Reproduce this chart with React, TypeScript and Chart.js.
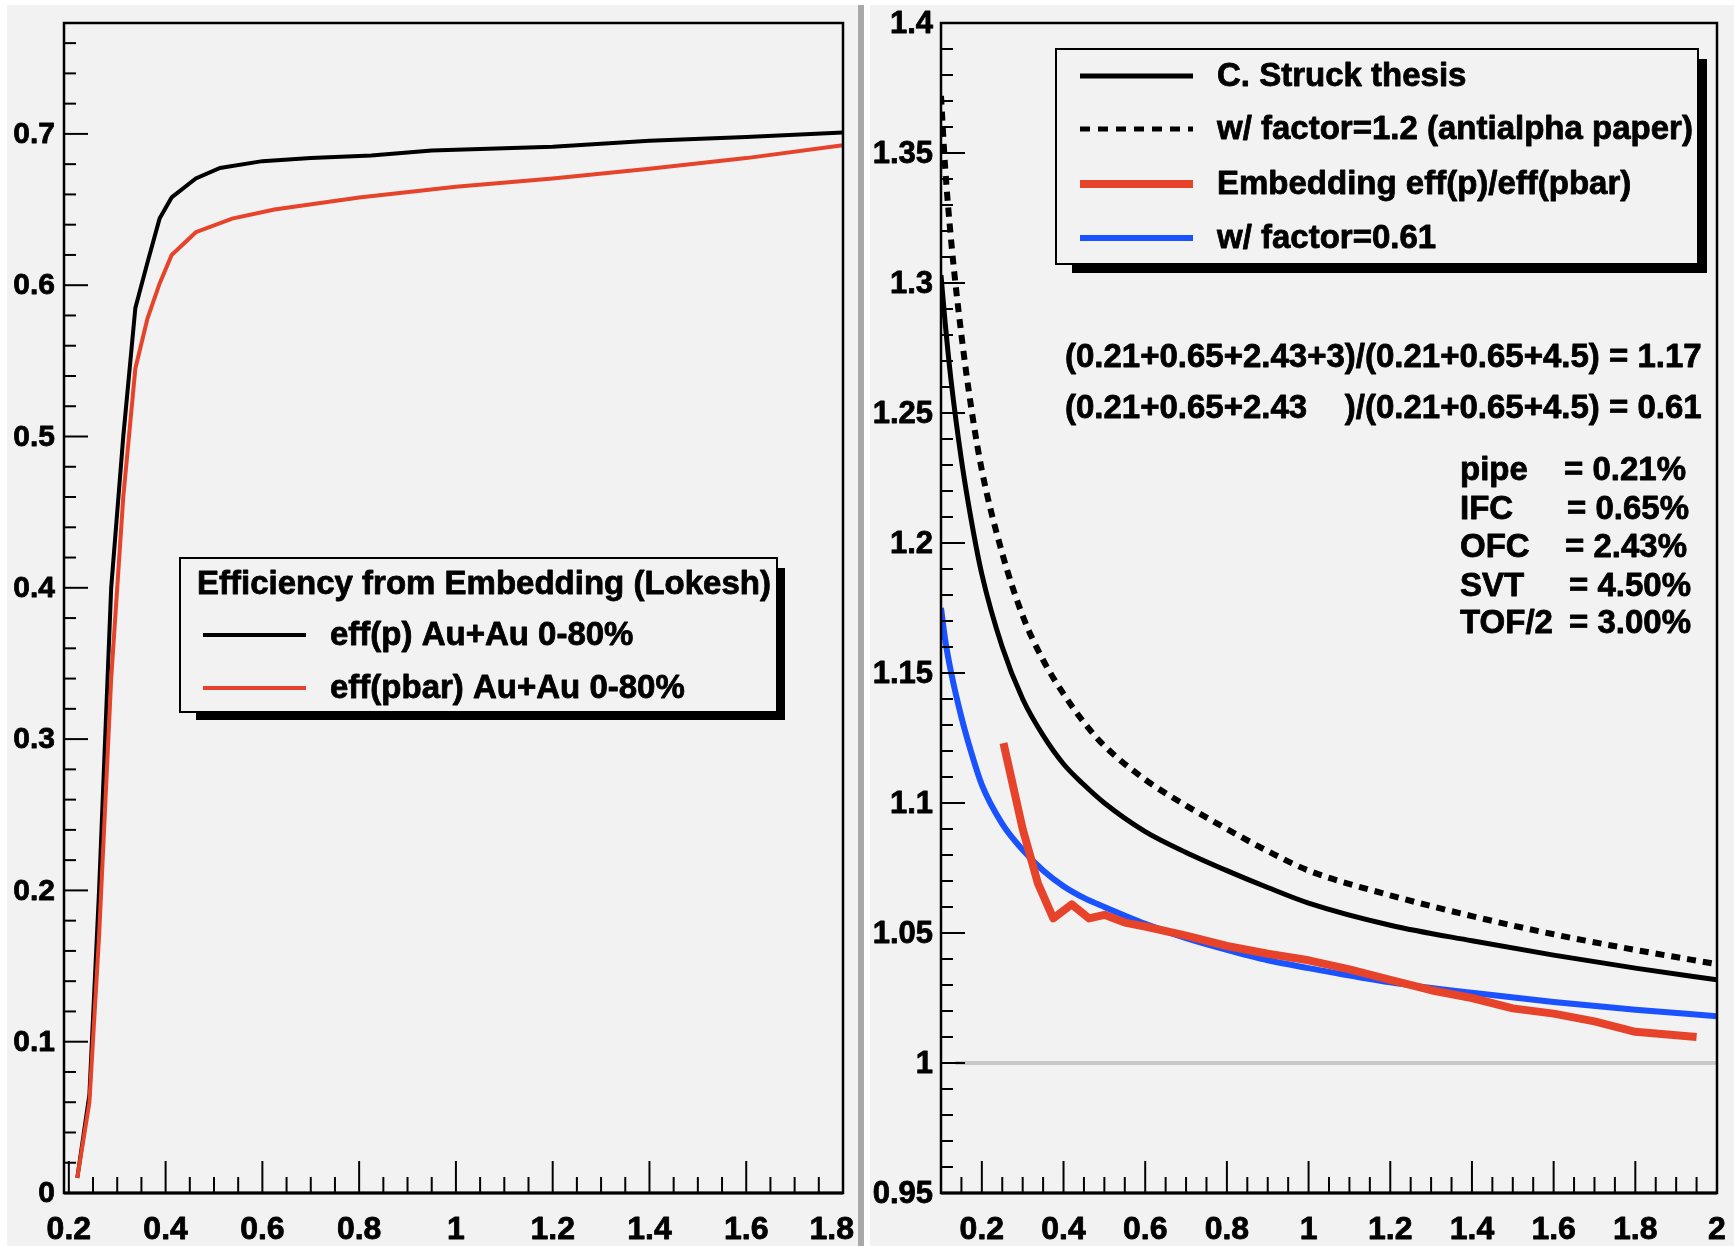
import React, { useEffect, useRef } from "react";
import { Chart, registerables } from "chart.js";
Chart.register(...registerables);

// ---------------- Left panel data ----------------
const effPX = [0.2175, 0.2425, 0.2625, 0.2875, 0.3125, 0.3375, 0.3625, 0.3875, 0.4125, 0.4625, 0.5125, 0.6, 0.7, 0.825, 0.95, 1.2, 1.4, 1.6, 1.8];
const effP = [0.01, 0.065, 0.2, 0.4, 0.5, 0.585, 0.615, 0.644, 0.658, 0.6705, 0.6775, 0.682, 0.684, 0.6857, 0.689, 0.6915, 0.6955, 0.698, 0.701];
const effPbarX = [0.2175, 0.2425, 0.2625, 0.2875, 0.3125, 0.3375, 0.3625, 0.3875, 0.4125, 0.4625, 0.5375, 0.625, 0.8, 1.0, 1.2, 1.4, 1.6, 1.8];
const effPbar = [0.01, 0.06, 0.17, 0.34, 0.46, 0.545, 0.578, 0.601, 0.62, 0.635, 0.644, 0.65, 0.658, 0.665, 0.6705, 0.677, 0.684, 0.6925];

const leftXTickValues = [0.2, 0.4, 0.6, 0.8, 1.0, 1.2, 1.4, 1.6, 1.8];
const leftXTickLabels = ["0.2", "0.4", "0.6", "0.8", "1", "1.2", "1.4", "1.6", "1.8"];
const leftYTickValues = [0, 0.1, 0.2, 0.3, 0.4, 0.5, 0.6, 0.7];
const leftYTickLabels = ["0", "0.1", "0.2", "0.3", "0.4", "0.5", "0.6", "0.7"];

// ---------------- Right panel data ----------------
const ratioX = [0.1, 0.11, 0.125, 0.15, 0.175, 0.2, 0.25, 0.3, 0.35, 0.4, 0.45, 0.5, 0.6, 0.7, 0.8, 0.9, 1.0, 1.2, 1.4, 1.6, 1.8, 2.0];
const struck = [1.303, 1.285, 1.262, 1.232, 1.208, 1.188, 1.16, 1.14, 1.126, 1.115, 1.107, 1.1, 1.089, 1.081, 1.074, 1.0675, 1.0615, 1.053, 1.047, 1.0415, 1.0365, 1.032];
const struck12 = [1.372, 1.345, 1.316, 1.28, 1.251, 1.228, 1.196, 1.172, 1.155, 1.142, 1.131, 1.122, 1.109, 1.099, 1.09, 1.0815, 1.074, 1.0645, 1.0565, 1.0495, 1.0435, 1.038];
const struck061 = [1.175, 1.163, 1.15, 1.133, 1.119, 1.107, 1.092, 1.082, 1.074, 1.068, 1.0635, 1.06, 1.0535, 1.048, 1.0435, 1.0395, 1.0365, 1.031, 1.027, 1.0235, 1.0205, 1.018];
const embX = [0.253, 0.3, 0.3375, 0.375, 0.42, 0.4625, 0.5, 0.55, 0.6, 0.7, 0.8, 0.9, 1.0, 1.1, 1.2, 1.3, 1.4, 1.5, 1.6, 1.7, 1.8, 1.95];
const embRatio = [1.123, 1.09, 1.069, 1.0556, 1.061, 1.0556, 1.057, 1.054, 1.0525, 1.049, 1.045, 1.042, 1.0395, 1.036, 1.032, 1.028, 1.025, 1.021, 1.019, 1.016, 1.012, 1.01];
const unityX = [0.135, 2.0];
const unityY = [1.0, 1.0];

const rightXTickValues = [0.2, 0.4, 0.6, 0.8, 1.0, 1.2, 1.4, 1.6, 1.8, 2.0];
const rightXTickLabels = ["0.2", "0.4", "0.6", "0.8", "1", "1.2", "1.4", "1.6", "1.8", "2"];
const rightYTickValues = [0.95, 1.0, 1.05, 1.1, 1.15, 1.2, 1.25, 1.3, 1.35, 1.4];
const rightYTickLabels = ["0.95", "1", "1.05", "1.1", "1.15", "1.2", "1.25", "1.3", "1.35", "1.4"];

const BG = "#f2f2f2";
const RED = "#e6432a";
const BLUE = "#1a52ff";
const FONT = '"Liberation Sans", Arial, Helvetica, sans-serif';
const TXT = 33;

function pts(xs: number[], ys: number[]) {
  return xs.map((x, i) => ({ x, y: ys[i] }));
}

function drawText(ctx: CanvasRenderingContext2D, text: string, x: number, y: number, size: number, align: "left" | "right" | "center" = "left", maxRight = Infinity) {
  ctx.save();
  ctx.font = `bold ${size}px ${FONT}`;
  ctx.textBaseline = "middle";
  ctx.textAlign = "left";
  const w = ctx.measureText(text).width;
  let x0 = align === "right" ? x - w : align === "center" ? x - w / 2 : x;
  if (x0 + w > maxRight) x0 = maxRight - w;
  ctx.fillStyle = "#000";
  ctx.strokeStyle = "#000";
  ctx.lineWidth = 0.8;
  ctx.lineJoin = "round";
  ctx.fillText(text, x0, y);
  ctx.strokeText(text, x0, y);
  ctx.restore();
  return w;
}

type AxisSpec = {
  minorStart: number;
  minorStep: number;
  minorCount: number;
  majorEvery: number;
  majorOffset: number;
  majorLen: number;
  minorLen: number;
};

function drawAxes(chart: any, xs: AxisSpec, ys: AxisSpec) {
  const ctx: CanvasRenderingContext2D = chart.ctx;
  const a = chart.chartArea;
  const sx = chart.scales.x;
  const sy = chart.scales.y;
  ctx.save();
  ctx.strokeStyle = "#000";
  ctx.lineWidth = 2;
  for (let i = 0; i < xs.minorCount; i++) {
    const v = xs.minorStart + i * xs.minorStep;
    const px = sx.getPixelForValue(v);
    if (px < a.left + 1 || px > a.right + 1) continue;
    const len = (i - xs.majorOffset) % xs.majorEvery === 0 ? xs.majorLen : xs.minorLen;
    ctx.beginPath();
    ctx.moveTo(px, a.bottom);
    ctx.lineTo(px, a.bottom - len);
    ctx.stroke();
  }
  for (let i = 0; i < ys.minorCount; i++) {
    const v = ys.minorStart + i * ys.minorStep;
    const py = sy.getPixelForValue(v);
    if (py < a.top - 1 || py > a.bottom - 1) continue;
    const len = (i - ys.majorOffset) % ys.majorEvery === 0 ? ys.majorLen : ys.minorLen;
    ctx.beginPath();
    ctx.moveTo(a.left, py);
    ctx.lineTo(a.left + len, py);
    ctx.stroke();
  }
  ctx.lineWidth = 2.5;
  ctx.strokeRect(a.left, a.top, a.right - a.left, a.bottom - a.top);
  ctx.lineWidth = 3;
  ctx.beginPath();
  ctx.moveTo(a.left, a.bottom);
  ctx.lineTo(a.right, a.bottom);
  ctx.stroke();
  ctx.restore();
}

function drawBox(ctx: CanvasRenderingContext2D, l: number, t: number, r: number, b: number, sh: number) {
  ctx.save();
  ctx.fillStyle = "#000";
  ctx.fillRect(l + 16, b, r - l - 16 + sh, sh);
  ctx.fillRect(r, t + 10, sh, b - t - 10 + sh);
  ctx.fillStyle = BG;
  ctx.fillRect(l, t, r - l, b - t);
  ctx.strokeStyle = "#000";
  ctx.lineWidth = 2;
  ctx.strokeRect(l, t, r - l, b - t);
  ctx.restore();
}

function sample(ctx: CanvasRenderingContext2D, x1: number, x2: number, y: number, color: string, width: number, dash: number[] = []) {
  ctx.save();
  ctx.strokeStyle = color;
  ctx.lineWidth = width;
  ctx.setLineDash(dash);
  ctx.lineCap = "butt";
  ctx.beginPath();
  ctx.moveTo(x1, y);
  ctx.lineTo(x2, y);
  ctx.stroke();
  ctx.restore();
}

const leftPlugin = {
  id: "leftDecor",
  beforeDraw(chart: any) {
    const ctx: CanvasRenderingContext2D = chart.ctx;
    ctx.save();
    ctx.fillStyle = "#fff";
    ctx.fillRect(0, 0, chart.width, chart.height);
    ctx.fillStyle = BG;
    ctx.fillRect(7, 5, chart.width - 7, chart.height - 5);
    ctx.restore();
  },
  afterDatasetsDraw(chart: any) {
    const ctx: CanvasRenderingContext2D = chart.ctx;
    const a = chart.chartArea;
    drawAxes(
      chart,
      { minorStart: 0.2, minorStep: 0.05, minorCount: 33, majorEvery: 4, majorOffset: 0, majorLen: 32, minorLen: 16 },
      { minorStart: 0, minorStep: 0.02, minorCount: 39, majorEvery: 5, majorOffset: 0, majorLen: 24, minorLen: 12 }
    );
    leftXTickValues.forEach((v, i) => {
      drawText(ctx, leftXTickLabels[i], chart.scales.x.getPixelForValue(v), 1230, 32, "center", 854);
    });
    leftYTickValues.forEach((v, i) => {
      drawText(ctx, leftYTickLabels[i], a.left - 9, chart.scales.y.getPixelForValue(v) + 1, 30, "right");
    });
    drawBox(ctx, 180, 558, 777, 712, 8);
    drawText(ctx, "Efficiency from Embedding (Lokesh)", 197, 585, TXT);
    sample(ctx, 203, 306, 635, "#000", 4);
    drawText(ctx, "eff(p) Au+Au 0-80%", 330, 636, TXT);
    sample(ctx, 203, 306, 688, RED, 4);
    drawText(ctx, "eff(pbar) Au+Au 0-80%", 330, 689, TXT);
  },
};

const rightPlugin = {
  id: "rightDecor",
  beforeDraw(chart: any) {
    const ctx: CanvasRenderingContext2D = chart.ctx;
    ctx.save();
    ctx.fillStyle = "#fff";
    ctx.fillRect(0, 0, chart.width, chart.height);
    ctx.fillStyle = "#a8a8a8";
    ctx.fillRect(0, 5, 6, chart.height - 5);
    ctx.fillStyle = BG;
    ctx.fillRect(12, 5, chart.width - 12, chart.height - 5);
    ctx.restore();
  },
  afterDatasetsDraw(chart: any) {
    const ctx: CanvasRenderingContext2D = chart.ctx;
    const a = chart.chartArea;
    drawAxes(
      chart,
      { minorStart: 0.1, minorStep: 0.05, minorCount: 39, majorEvery: 4, majorOffset: 2, majorLen: 32, minorLen: 16 },
      { minorStart: 0.95, minorStep: 0.01, minorCount: 46, majorEvery: 5, majorOffset: 0, majorLen: 24, minorLen: 12 }
    );
    rightXTickValues.forEach((v, i) => {
      drawText(ctx, rightXTickLabels[i], chart.scales.x.getPixelForValue(v), 1230, 32, "center", 874);
    });
    rightYTickValues.forEach((v, i) => {
      drawText(ctx, rightYTickLabels[i], a.left - 8, chart.scales.y.getPixelForValue(v) + 1, 31, "right");
    });
    drawBox(ctx, 198, 49, 840, 264, 9);
    sample(ctx, 222, 335, 76, "#000", 5);
    drawText(ctx, "C. Struck thesis", 359, 77, TXT);
    sample(ctx, 222, 335, 129, "#000", 5, [10, 8]);
    drawText(ctx, "w/ factor=1.2 (antialpha paper)", 359, 130, TXT);
    sample(ctx, 222, 335, 184, RED, 8);
    drawText(ctx, "Embedding eff(p)/eff(pbar)", 359, 185, TXT);
    sample(ctx, 222, 335, 238, BLUE, 6);
    drawText(ctx, "w/ factor=0.61", 359, 239, TXT);
    const w1 = drawText(ctx, "(0.21+0.65+2.43+3", 207, 358, TXT);
    drawText(ctx, ")/(0.21+0.65+4.5) = 1.17", 207 + w1, 358, TXT);
    drawText(ctx, "(0.21+0.65+2.43", 207, 409, TXT);
    drawText(ctx, ")/(0.21+0.65+4.5) = 0.61", 207 + w1, 409, TXT);
    const names = ["pipe", "IFC", "OFC", "SVT", "TOF/2"];
    const vals = ["= 0.21%", "= 0.65%", "= 2.43%", "= 4.50%", "= 3.00%"];
    const ys = [471, 510, 548, 587, 624];
    const eqx = [706, 709, 707, 711, 711];
    names.forEach((n, i) => {
      drawText(ctx, n, 602, ys[i], TXT);
      drawText(ctx, vals[i], eqx[i], ys[i], TXT);
    });
  },
};

export default function App() {
  const leftRef = useRef<HTMLCanvasElement | null>(null);
  const rightRef = useRef<HTMLCanvasElement | null>(null);

  useEffect(() => {
    document.body.style.margin = "0";
    const common = {
      animation: false,
      responsive: false,
      devicePixelRatio: 1,
      events: [],
      plugins: { legend: { display: false }, tooltip: { enabled: false } },
    };
    const left = new Chart(leftRef.current!, {
      type: "line",
      data: {
        datasets: [
          { data: pts(effPbarX, effPbar), borderColor: RED, borderWidth: 4, pointRadius: 0, tension: 0, fill: false },
          { data: pts(effPX, effP), borderColor: "#000", borderWidth: 4, pointRadius: 0, tension: 0, fill: false },
        ],
      },
      options: {
        ...common,
        layout: { padding: { left: 64, top: 23, right: 15, bottom: 53 } },
        scales: {
          x: { type: "linear", min: 0.19, max: 1.8, display: false },
          y: { type: "linear", min: 0, max: 0.7733, display: false },
        },
      },
      plugins: [leftPlugin],
    } as any);
    const right = new Chart(rightRef.current!, {
      type: "line",
      data: {
        datasets: [
          { data: pts(embX, embRatio), borderColor: RED, borderWidth: 8, pointRadius: 0, tension: 0, fill: false, borderJoinStyle: "round" },
          { data: pts(ratioX, struck), borderColor: "#000", borderWidth: 5, pointRadius: 0, cubicInterpolationMode: "monotone", fill: false },
          { data: pts(ratioX, struck12), borderColor: "#000", borderWidth: 6, borderDash: [9, 7], pointRadius: 0, cubicInterpolationMode: "monotone", fill: false },
          { data: pts(ratioX, struck061), borderColor: BLUE, borderWidth: 6, pointRadius: 0, cubicInterpolationMode: "monotone", fill: false },
          { data: pts(unityX, unityY), borderColor: "#c8c8c8", borderWidth: 4, pointRadius: 0, tension: 0, fill: false },
        ],
      },
      options: {
        ...common,
        layout: { padding: { left: 83, top: 23, right: 17, bottom: 53 } },
        scales: {
          x: { type: "linear", min: 0.1, max: 2.0, display: false },
          y: { type: "linear", min: 0.95, max: 1.4, display: false },
        },
      },
      plugins: [rightPlugin],
    } as any);
    return () => {
      left.destroy();
      right.destroy();
    };
  }, []);

  return (
    <div style={{ position: "relative", width: 1734, height: 1246, background: "#fff", overflow: "hidden" }}>
      <canvas ref={leftRef} width={858} height={1246} style={{ position: "absolute", left: 0, top: 0, width: 858, height: 1246 }} />
      <canvas ref={rightRef} width={876} height={1246} style={{ position: "absolute", left: 858, top: 0, width: 876, height: 1246 }} />
    </div>
  );
}
